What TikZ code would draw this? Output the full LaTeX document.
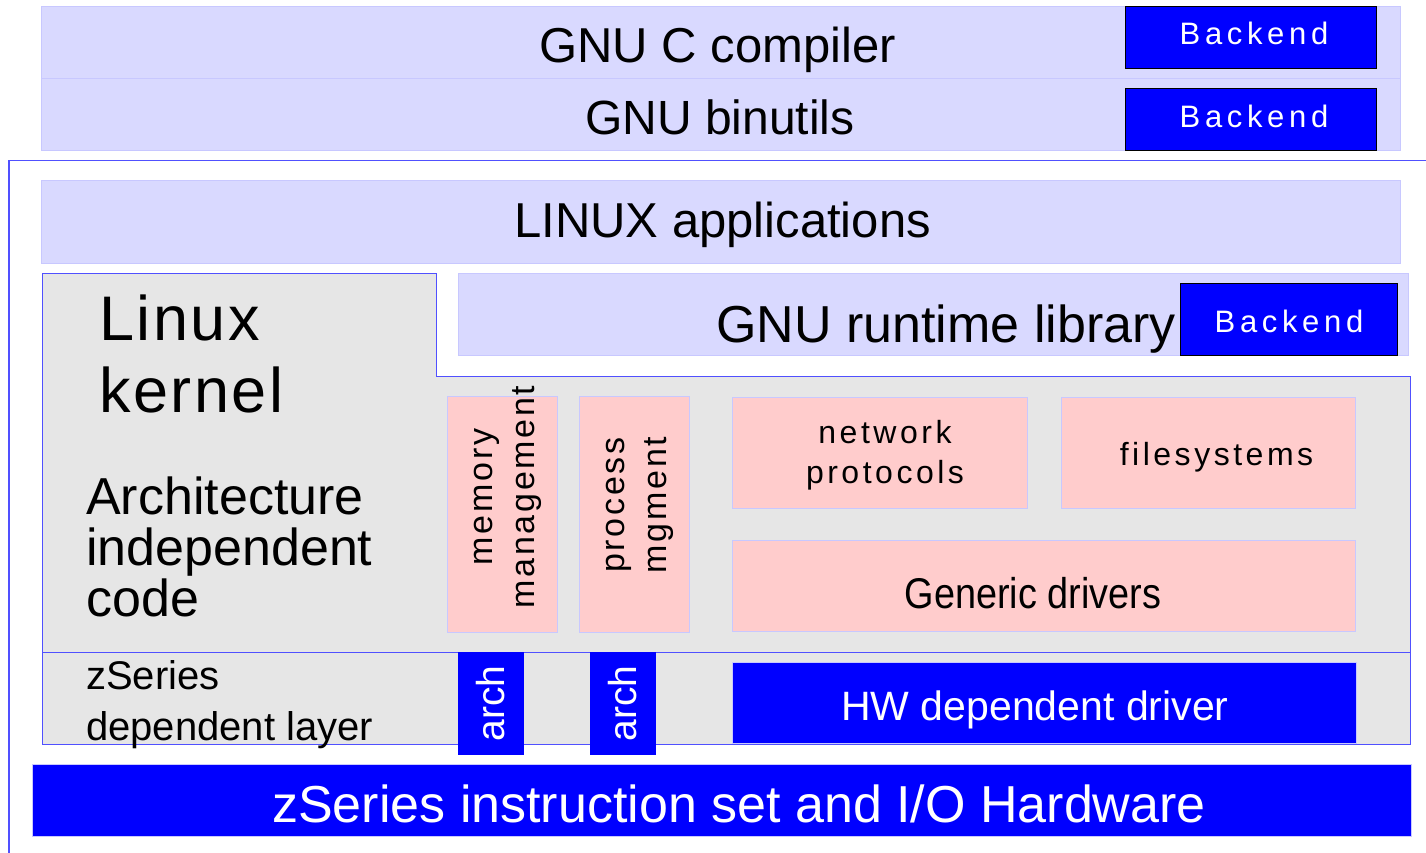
\documentclass[tikz,border=0pt]{standalone}
\usepackage{fontspec}
\setmainfont{Liberation Sans}
\newfontfamily\bkfont[LetterSpace=15]{Liberation Sans}
\newfontfamily\boxfont[LetterSpace=11]{Liberation Sans}
\newfontfamily\rotfont[LetterSpace=8]{Liberation Sans}
\newfontfamily\kernfont[LetterSpace=4]{Liberation Sans}
\newfontfamily\narrowfont[FakeStretch=0.88]{Liberation Sans}
\newcommand{\fsz}[2]{\fontsize{#1}{#2}\selectfont}

\definecolor{lavfill}{RGB}{217,217,255}
\definecolor{lavline}{RGB}{200,200,255}
\definecolor{kgray}{RGB}{230,230,230}
\definecolor{pinkfill}{RGB}{255,204,204}
\definecolor{frameblue}{RGB}{80,80,255}

\begin{document}
\begin{tikzpicture}[x=1pt,y=-1pt,
    lav/.style={draw=lavline,fill=lavfill,line width=1pt,inner sep=0pt},
    pink/.style={draw=lavline,fill=pinkfill,line width=1pt,inner sep=0pt},
    bluebox/.style={draw=lavline,fill=blue,line width=1pt,inner sep=0pt},
    backend/.style={draw=black,fill=blue,line width=1pt,inner sep=0pt},
    archbox/.style={fill=blue,inner sep=0pt,rotate=90,text=white,
        minimum width=103pt,minimum height=66pt,font=\fsz{39}{45}},
    txt/.style={inner sep=0pt,anchor=base}]
\useasboundingbox (0,0) rectangle (1426,853);

% toolchain on top
\node[lav,minimum width=1359pt,minimum height=72pt] (gcc) at (720.5,43) {};
\node[lav,minimum width=1359pt,minimum height=72pt] (binu) at (720.5,115) {};
\node[backend,minimum width=251pt,minimum height=62pt] (be1) at (1250.5,38) {};
\node[backend,minimum width=251pt,minimum height=62pt] (be2) at (1250.5,120) {};
\node[txt,font=\fsz{49}{56}] (gcctxt) at (717.5,63) {GNU C compiler};
\node[txt,font=\fsz{48}{56}] (binutxt) at (720,135) {GNU binutils};
\node[txt,text=white,font=\bkfont\fsz{31}{36}] (be1txt) at (1254,45) {Backend};
\node[txt,text=white,font=\bkfont\fsz{31}{36}] (be2txt) at (1254,128) {Backend};

% system frame
\draw[frameblue,line width=1.5pt] (9,853) -- (9,160.5) -- (1426,160.5);

\node[lav,minimum width=1359pt,minimum height=82pt] (apps) at (720.5,222) {};
\node[txt,font=\fsz{49}{56}] (appstxt) at (722.5,237) {LINUX applications};

\node[lav,minimum width=950pt,minimum height=82pt] (rtlib) at (933,314) {};
\node[txt,font=\fsz{52}{60}] (rttxt) at (946,342) {GNU runtime library};
\node[backend,minimum width=217pt,minimum height=72pt] (be3) at (1288.5,319) {};
\node[txt,text=white,font=\bkfont\fsz{31}{36}] (be3txt) at (1289,332) {Backend};

% kernel
\draw[frameblue,fill=kgray,line width=1pt] (42,273) -- (436,273) -- (436,376)
    -- (1410,376) -- (1410,744) -- (42,744) -- cycle;
\draw[frameblue,line width=1pt] (42,652) -- (1410,652);

% base of a multi-line node is its last line
\begin{scope}[every node/.style={txt,anchor=base west,align=left}]
    \node[font=\kernfont\fsz{63}{72}] (lktxt) at (99,412) {Linux\\kernel};
    \node[font=\fsz{52}{51}] (aictxt) at (86,616) {Architecture\\independent\\code};
    \node[font=\fsz{40}{51}] (zstxt) at (86,740) {zSeries\\dependent layer};
\end{scope}

\node[pink,minimum width=110pt,minimum height=236pt] (mem) at (502,514) {};
\node[pink,minimum width=110pt,minimum height=236pt] (proc) at (634,514) {};
\node[inner sep=0pt,rotate=90,align=center,font=\rotfont\fsz{34}{42}] (memtxt) at (508,497) {memory\\management};
\node[inner sep=0pt,rotate=90,align=center,font=\rotfont\fsz{34}{42}] (proctxt) at (640,505) {process\\mgment};

\node[pink,minimum width=295pt,minimum height=111pt] (net) at (879.5,452.5) {};
\node[pink,minimum width=294pt,minimum height=111pt] (fs) at (1208,452.5) {};
\node[pink,minimum width=623pt,minimum height=91pt] (gen) at (1043.5,585.5) {};
\node[txt,align=center,font=\boxfont\fsz{32}{40}] (nettxt) at (885,483) {network\\protocols};
\node[txt,font=\boxfont\fsz{32}{40}] (fstxt) at (1216.5,465) {filesystems};
\node[txt,font=\narrowfont\fsz{43}{50}] (gentxt) at (1033,608) {Generic drivers};

% zSeries dependent part
\node[archbox] (arch1) at (491,703.5) {arch};
\node[archbox] (arch2) at (623,703.5) {arch};
\node[bluebox,minimum width=624pt,minimum height=81pt] (hw) at (1044,702.5) {};
\node[txt,text=white,font=\fsz{41}{48}] (hwtxt) at (1035,720) {HW dependent driver};

\node[bluebox,minimum width=1379pt,minimum height=72pt] (hwbar) at (721.5,800) {};
\node[txt,text=white,font=\fsz{52}{60}] (hwbartxt) at (739,822) {zSeries instruction set and I/O Hardware};
\end{tikzpicture}
\end{document}
